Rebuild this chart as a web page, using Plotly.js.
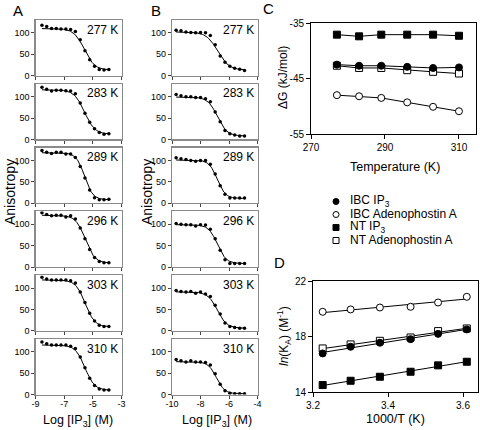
<!DOCTYPE html>
<html><head><meta charset="utf-8">
<script src="https://cdn.plot.ly/plotly-3.0.1.min.js"></script>
<style>html,body{margin:0;padding:0;background:#fff}#chart{width:480px;height:430px}</style>
</head><body><div id="chart"></div>
<script>
// ---------- data ----------
const temps = [277, 283, 289, 296, 303, 310];
const tempLabels = ['277 K', '283 K', '289 K', '296 K', '303 K', '310 K'];

// Panel A: IBC, IP3 competition (log M)
const logA = [-8.55, -8.22, -7.88, -7.55, -7.22, -6.88, -6.55, -6.22, -5.88, -5.55, -5.22, -4.88, -4.55, -4.22, -3.88];
const anisoA277 = [118, 115, 110, 110, 109, 109, 108, 103, 84, 58, 37, 22, 14, 13, 14];
const anisoA283 = [122, 117, 113, 115, 115, 114, 113, 107, 85, 61, 40, 25, 16, 12, 13];
const anisoA289 = [123, 119, 116, 119, 119, 115, 115, 107, 86, 59, 31, 13, 8, 8, 9];
const anisoA296 = [127, 123, 120, 121, 121, 117, 120, 112, 91, 66, 41, 22, 13, 10, 10];
const anisoA303 = [125, 121, 119, 119, 119, 119, 117, 112, 91, 66, 41, 23, 13, 10, 10];
const anisoA310 = [123, 119, 116, 116, 116, 116, 113, 108, 88, 63, 38, 21, 13, 11, 11];
const fitTopA  = [110, 116, 118, 121, 119, 116];
const fitBotA  = [13, 12, 8, 9, 9, 10];
const fitMidA  = [-5.6, -5.58, -5.58, -5.53, -5.53, -5.55];
const fitHillA = [1.2, 1.2, 1.5, 1.3, 1.3, 1.3];

// Panel B: NT, IP3 competition (log M)
const logB = [-9.71, -9.37, -9.02, -8.68, -8.34, -8.0, -7.65, -7.31, -6.97, -6.62, -6.28, -5.94, -5.6, -5.25, -4.91];
const anisoB277 = [106, 105, 102, 101, 100, 101, 100, 94, 72, 46, 31, 22, 17, 15, 12];
const anisoB283 = [105, 102, 100, 100, 98, 98, 95, 88, 64, 41, 21, 13, 10, 8, 8];
const anisoB289 = [106, 104, 102, 100, 98, 100, 100, 91, 68, 41, 21, 12, 12, 12, 12];
const anisoB296 = [102, 100, 99, 99, 96, 99, 98, 88, 66, 39, 17, 8, 8, 8, 8];
const anisoB303 = [94, 92, 91, 92, 88, 91, 86, 80, 60, 39, 18, 10, 8, 6, 6];
const anisoB310 = [82, 79, 76, 79, 76, 76, 75, 69, 49, 24, 9, 3, 2, 2, 2];
const fitTopB  = [102, 99, 101, 99, 91, 77];
const fitBotB  = [13, 8, 11, 8, 6, 2];
const fitMidB  = [-6.8, -6.82, -6.82, -6.82, -6.82, -6.88];
const fitHillB = [1.1, 1.3, 1.5, 1.4, 1.3, 1.5];

// Panel C: dG (kJ/mol) vs temperature
const seriesNames = ['IBC IP<sub>3</sub>', 'IBC Adenophostin A', 'NT IP<sub>3</sub>', 'NT Adenophostin A'];
const dG_IBC_IP3 = [-42.5, -42.7, -42.7, -42.9, -43.1, -43.0];
const dG_IBC_AdA = [-48.0, -48.2, -48.5, -49.3, -50.1, -50.9];
const dG_NT_IP3  = [-37.1, -37.4, -37.1, -37.1, -37.1, -37.3];
const dG_NT_AdA  = [-42.7, -43.1, -43.1, -43.5, -43.8, -44.1];

// Panel D: ln(KA) vs 1000/T
const lnK_IBC_IP3 = [18.51, 18.19, 17.81, 17.55, 17.26, 16.78];
const lnK_IBC_AdA = [20.86, 20.45, 20.14, 20.09, 19.95, 19.78];
const lnK_NT_IP3  = [16.18, 15.92, 15.46, 15.10, 14.81, 14.50];
const lnK_NT_AdA  = [18.58, 18.39, 17.93, 17.69, 17.43, 17.14];

// ---------- layout helpers ----------
const W = 480, H = 430;
const px = v => v / W, py = v => 1 - v / H;
const FONT = 'Liberation Sans, Arial, sans-serif';
const traces = [], annotations = [];
const layout = {
  width: W, height: H, margin: {l: 0, r: 0, t: 0, b: 0},
  paper_bgcolor: '#fff', plot_bgcolor: 'rgba(0,0,0,0)',
  showlegend: false, font: {family: FONT, color: '#000'},
  annotations: annotations
};

const columns = [
  {log: logA, vals: [anisoA277, anisoA283, anisoA289, anisoA296, anisoA303, anisoA310],
   top: fitTopA, bot: fitBotA, mid: fitMidA, hill: fitHillA,
   xdom: [35.5, 121.5], range: [-9, -3], ticks: [-9, -7, -5, -3]},
  {log: logB, vals: [anisoB277, anisoB283, anisoB289, anisoB296, anisoB303, anisoB310],
   top: fitTopB, bot: fitBotB, mid: fitMidB, hill: fitHillB,
   xdom: [172, 257.5], range: [-10, -4], ticks: [-10, -8, -6, -4]}
];

let n = 0;
columns.forEach((col, c) => {
  for (let i = 0; i < temps.length; i++) {
    n++;
    const xa = 'x' + n, ya = 'y' + n;
    const top = 20 + 63.8 * i, bottom = top + 55.6;
    const isBottom = i === temps.length - 1;
    layout['xaxis' + n] = {
      domain: [px(col.xdom[0]), px(col.xdom[1])], anchor: ya,
      range: col.range, tickmode: 'array', tickvals: col.ticks,
      ticktext: col.ticks.map(String), showticklabels: isBottom,
      ticks: 'outside', ticklen: 3, tickwidth: 1, tickcolor: '#444',
      ticklabelstandoff: -3,
      showline: true, mirror: true, linecolor: '#8a8a8a', linewidth: 1.2,
      showgrid: false, zeroline: false, tickfont: {size: 9, family: FONT}
    };
    layout['yaxis' + n] = {
      domain: [py(bottom), py(top)], anchor: xa,
      range: [0, 130], tickmode: 'array', tickvals: [0, 50, 100],
      ticktext: ['0', '50', '100'],
      ticks: 'outside', ticklen: 3, tickwidth: 1, tickcolor: '#444',
      showline: true, mirror: true, linecolor: '#8a8a8a', linewidth: 1.2,
      showgrid: false, zeroline: false, tickfont: {size: 9, family: FONT}
    };
    // fitted Hill curve
    const x0 = col.log[0], x1 = col.log[col.log.length - 1];
    const fx = [], fy = [];
    for (let k = 0; k <= 80; k++) {
      const x = x0 + (x1 - x0) * k / 80;
      fx.push(x);
      fy.push(col.bot[i] + (col.top[i] - col.bot[i]) / (1 + Math.pow(10, (x - col.mid[i]) * col.hill[i])));
    }
    traces.push({x: fx, y: fy, xaxis: xa, yaxis: ya, mode: 'lines',
      line: {color: '#000', width: 1}, hoverinfo: 'skip'});
    traces.push({x: col.log, y: col.vals[i], xaxis: xa, yaxis: ya, mode: 'markers',
      marker: {color: '#000', size: 3.5}});
    annotations.push({xref: 'paper', yref: 'paper', x: px(col.xdom[1] - 1.5), y: py(top + 0.5),
      xanchor: 'right', yanchor: 'top', showarrow: false, text: tempLabels[i],
      font: {size: 12, family: FONT, color: '#000'}});
  }
});

// Panel C
const markerStyles = [
  {symbol: 'circle', color: '#000', line: {color: '#000', width: 1}},
  {symbol: 'circle', color: '#fff', line: {color: '#000', width: 1}},
  {symbol: 'square', color: '#000', line: {color: '#000', width: 1}},
  {symbol: 'square', color: '#fff', line: {color: '#000', width: 1}}
];
const dGseries = [dG_IBC_IP3, dG_IBC_AdA, dG_NT_IP3, dG_NT_AdA];
const lnKseries = [lnK_IBC_IP3, lnK_IBC_AdA, lnK_NT_IP3, lnK_NT_AdA];

layout.xaxis13 = {domain: [px(311), px(476)], anchor: 'y13', range: [270, 314.6],
  tickmode: 'array', tickvals: [270, 290, 310], ticktext: ['270', '290', '310'],
  ticks: 'outside', ticklen: 4, tickcolor: '#000', showline: true, mirror: true,
  linecolor: '#000', linewidth: 1, showgrid: false, zeroline: false,
  tickfont: {size: 10, family: FONT}};
layout.yaxis13 = {domain: [py(134), py(23)], anchor: 'x13', range: [-55, -35],
  tickmode: 'array', tickvals: [-55, -45, -35], ticktext: ['-55', '-45', '-35'],
  ticks: 'outside', ticklen: 4, tickcolor: '#000', showline: true, mirror: true,
  linecolor: '#000', linewidth: 1, showgrid: false, zeroline: false,
  tickfont: {size: 10, family: FONT}};
[1, 3, 0, 2].forEach(s => {
  traces.push({x: temps, y: dGseries[s], xaxis: 'x13', yaxis: 'y13', mode: 'lines+markers',
    name: seriesNames[s], line: {color: '#000', width: 1},
    marker: Object.assign({size: 7}, markerStyles[s])});
});

// Panel D
const invT = temps.map(t => 1000 / t);
layout.xaxis14 = {domain: [px(313), px(478)], anchor: 'y14', range: [3.2, 3.64],
  tickmode: 'array', tickvals: [3.2, 3.4, 3.6], ticktext: ['3.2', '3.4', '3.6'],
  ticks: 'outside', ticklen: 4, tickcolor: '#000', showline: true, mirror: true,
  linecolor: '#000', linewidth: 1, showgrid: false, zeroline: false,
  tickfont: {size: 10, family: FONT}};
layout.yaxis14 = {domain: [py(392), py(281)], anchor: 'x14', range: [14, 22],
  tickmode: 'array', tickvals: [14, 18, 22], ticktext: ['14', '18', '22'],
  ticks: 'outside', ticklen: 4, tickcolor: '#000', showline: true, mirror: true,
  linecolor: '#000', linewidth: 1, showgrid: false, zeroline: false,
  tickfont: {size: 10, family: FONT}};
function linfit(xs, ys) {
  const m = xs.length, mx = xs.reduce((a, b) => a + b) / m, my = ys.reduce((a, b) => a + b) / m;
  let sxy = 0, sxx = 0;
  xs.forEach((x, k) => { sxy += (x - mx) * (ys[k] - my); sxx += (x - mx) * (x - mx); });
  const b = sxy / sxx; return [b, my - b * mx];
}
[1, 3, 0, 2].forEach(s => {
  const [b, a] = linfit(invT, lnKseries[s]);
  const xe = [Math.min(...invT), Math.max(...invT)];
  traces.push({x: xe, y: xe.map(x => a + b * x), xaxis: 'x14', yaxis: 'y14', mode: 'lines',
    line: {color: '#000', width: 1}, hoverinfo: 'skip'});
  traces.push({x: invT, y: lnKseries[s], xaxis: 'x14', yaxis: 'y14', mode: 'markers',
    name: seriesNames[s], marker: Object.assign({size: 7}, markerStyles[s])});
});

// Manual legend (hidden axis)
layout.xaxis15 = {domain: [px(330), px(342)], anchor: 'y15', range: [0, 1], visible: false, fixedrange: true};
layout.yaxis15 = {domain: [py(247), py(195)], anchor: 'x15', range: [3.5, -0.5], visible: false, fixedrange: true};
seriesNames.forEach((nm, s) => {
  traces.push({x: [0.5], y: [s], xaxis: 'x15', yaxis: 'y15', mode: 'markers', hoverinfo: 'skip',
    marker: Object.assign({size: 6}, markerStyles[s])});
  annotations.push({xref: 'paper', yref: 'y15', x: px(348), y: s, xanchor: 'left', yanchor: 'middle',
    showarrow: false, text: nm, font: {size: 12, family: FONT}});
});

// Titles and panel letters
function ann(text, x, y, size, angle, extra) {
  annotations.push(Object.assign({xref: 'paper', yref: 'paper', x: px(x), y: py(y),
    xanchor: 'center', yanchor: 'middle', showarrow: false, text: text, textangle: angle || 0,
    font: {size: size, family: FONT, color: '#000'}}, extra || {}));
}
ann('A', 18, 10, 15);
ann('B', 156, 10, 15);
ann('C', 268, 9, 15);
ann('D', 279, 262, 15);
ann('Anisotropy', 10, 192, 14, -90);
ann('Anisotropy', 147, 192, 14, -90);
ann('Log [IP<sub>3</sub>] (M)', 78, 421, 12.5);
ann('Log [IP<sub>3</sub>] (M)', 217, 421, 12.5);
ann('Temperature (K)', 395, 167, 12.5);
ann('ΔG (kJ/mol)', 283, 78, 12, -90);
ann('1000/T (K)', 395, 419, 12.5);
ann('<i>ln</i>(K<sub>A</sub>) (M<sup>-1</sup>)', 284, 336, 12, -90);

Plotly.newPlot('chart', traces, layout, {staticPlot: true, displayModeBar: false});
</script>
</body></html>
